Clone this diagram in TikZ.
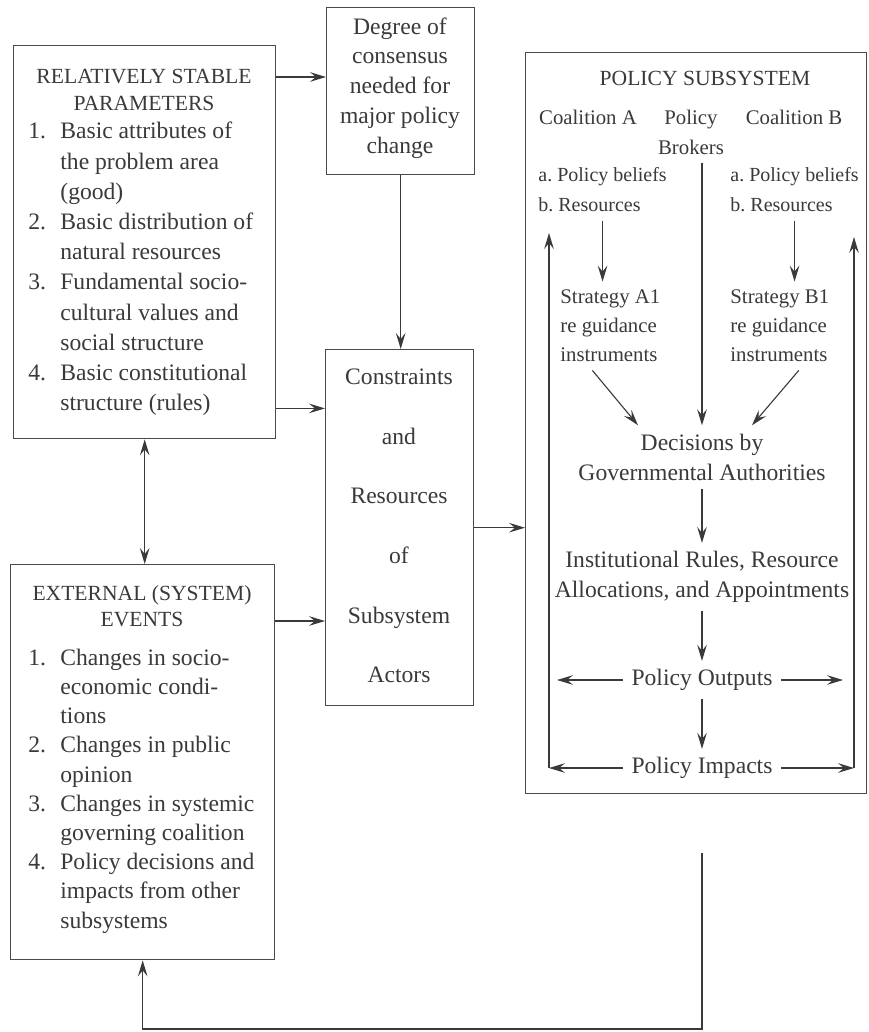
\documentclass[tikz,border=0pt]{standalone}
\usepackage{fontspec}
\setmainfont{Liberation Serif}
\usepackage{xcolor}
\usepackage{tikz}
\usetikzlibrary{arrows.meta,calc,positioning}
\definecolor{ink}{HTML}{3A3A3A}
\definecolor{frame}{HTML}{4A4A4A}
\tikzset{
  panel/.style={
    draw=frame,
    line width=0.7pt,
    anchor=north west,
    inner sep=0pt
  },
  heading/.style={text=ink, align=center, inner sep=4pt, font=\fontsize{10.8}{13.2}\selectfont},
  body/.style={text=ink, align=center, inner sep=4pt, font=\fontsize{11.8}{15}\selectfont},
  small/.style={body, font=\fontsize{10.4}{15}\selectfont},
  listing/.style={body, align=left, anchor=west},
  flow/.style={draw=ink, line width=0.55pt, -{Stealth[length=8pt,width=4.8pt,inset=3pt]}},
  twoway/.style={draw=ink, line width=0.55pt, {Stealth[length=8pt,width=4.8pt,inset=3pt]}-{Stealth[length=8pt,width=4.8pt,inset=3pt]}},
  wire/.style={draw=ink, line width=0.55pt}
}
\newcommand{\itm}[1]{\makebox[16pt][l]{#1}}
\newcommand{\cont}{\hspace*{16pt}}
\frenchspacing

\begin{document}
\begin{tikzpicture}[x=0.5pt,y=-0.5pt]
\useasboundingbox (0,0) rectangle (868,1032);
\fill[white] (0,0) rectangle (868,1032);

% frames
\node[panel, minimum width=131pt, minimum height=196.5pt] (params) at (13,45) {};
\node[panel, minimum width=74pt, minimum height=83.5pt] (degree) at (326,7) {};
\node[panel, minimum width=74pt, minimum height=178pt] (constr) at (325,349) {};
\node[panel, minimum width=170.5pt, minimum height=370.5pt] (policy) at (525,52) {};
\node[panel, minimum width=132pt, minimum height=197.5pt] (events) at (10,564) {};

% left column
\node[heading] (ptitle) at (144,90) {RELATIVELY STABLE\\PARAMETERS};
\node[listing, font=\fontsize{11.8}{15.1}\selectfont] (plist) at (20,269) {\itm{1.}Basic attributes of\\\cont the problem area\\\cont (good)\\\itm{2.}Basic distribution of\\\cont natural resources\\\itm{3.}Fundamental socio-\\\cont cultural values and\\\cont social structure\\\itm{4.}Basic constitutional\\\cont structure (rules)};

\node[heading] (etitle) at (142,606) {EXTERNAL (SYSTEM)\\EVENTS};
\node[listing, font=\fontsize{11.8}{14.6}\selectfont] (elist) at (20,791) {\itm{1.}Changes in socio-\\\cont economic condi-\\\cont tions\\\itm{2.}Changes in public\\\cont opinion\\\itm{3.}Changes in systemic\\\cont governing coalition\\\itm{4.}Policy decisions and\\\cont impacts from other\\\cont subsystems};

% middle column
\node[body, font=\fontsize{11.8}{14.9}\selectfont] (degtext) at (400,88) {Degree of\\consensus\\needed for\\major policy\\change};
\node[body, font=\fontsize{11.8}{29.8}\selectfont] (context) at (399,526) {Constraints\\and\\Resources\\of\\Subsystem\\Actors};

% policy subsystem
\node[heading] (stitle) at (705,78) {POLICY SUBSYSTEM};
\node[small] (coalA) at (588,117) {Coalition A};
\node[small] (brokers) at (691,132) {Policy\\Brokers};
\node[small] (coalB) at (794,117) {Coalition B};
\node[small, listing, font=\fontsize{10}{15}\selectfont] (beliefA) at (530,190) {a. Policy beliefs\\b. Resources};
\node[small, listing, font=\fontsize{10}{15}\selectfont] (beliefB) at (722,190) {a. Policy beliefs\\b. Resources};
\node[listing, font=\fontsize{10.4}{14.5}\selectfont] (stratA) at (552,326) {Strategy A1\\re guidance\\instruments};
\node[listing, font=\fontsize{10.4}{14.5}\selectfont] (stratB) at (722,326) {Strategy B1\\re guidance\\instruments};
\node[body] (decide) at (702,457) {Decisions by\\Governmental Authorities};
\node[body] (alloc) at (702,577) {Institutional Rules, Resource\\Allocations, and Appointments};
\node[body] (outputs) at (702,680) {Policy Outputs};
\node[body] (impacts) at (702,768) {Policy Impacts};

\coordinate (outL) at (557,680);
\coordinate (outR) at (843,680);
\coordinate (impL) at (549,768);
\coordinate (impR) at (854,768);
\coordinate (riseL) at (549,233);
\coordinate (riseR) at (854,237);

\draw[flow] (beliefA.south) -- (beliefA.south |- stratA.north);
\draw[flow] (beliefB.south) -- (beliefB.south |- stratB.north);
\draw[flow] ([xshift=-9pt]stratA.south) -- ([xshift=-32pt]decide.north);
\draw[flow] ([xshift=9.5pt]stratB.south) -- ([xshift=25pt]decide.north);
\draw[flow] (brokers.south -| decide.north) -- (decide.north);
\draw[flow] (decide.south) -- (alloc.north);
\draw[flow] (alloc.south) -- (outputs.north);
\draw[flow] (outputs.south) -- (impacts.north);
\draw[flow] (outputs.west) -- (outputs.west -| outL);
\draw[flow] (outputs.east) -- (outputs.east -| outR);
\draw[flow] (impacts.west) -- (impacts.west -| impL);
\draw[flow] (impacts.east) -- (impacts.east -| impR);
\draw[flow] (impacts.west -| impL) -- (riseL);
\draw[flow] (impacts.east -| impR) -- (riseR);

% links between frames
\coordinate (ptop) at ([yshift=-16pt]params.north east);
\coordinate (pbot) at ([yshift=15.5pt]params.south east);
\coordinate (etop) at ([yshift=-28.5pt]events.north east);
\draw[flow] (ptop) -- (ptop -| degree.west);
\draw[flow] (pbot) -- (pbot -| constr.west);
\draw[flow] (etop) -- (etop -| constr.west);
\draw[twoway] (params.south) -- (params.south |- events.north);
\draw[flow] (degree.south) -- (degree.south |- constr.north);
\draw[flow] (constr.east) -- (constr.east -| policy.west);

% feedback
\coordinate (fb) at (702,853);
\coordinate (fbturn) at (702,1029);
\draw[flow] (fb) -- (fbturn) -| (events.south);

\end{tikzpicture}
\end{document}
